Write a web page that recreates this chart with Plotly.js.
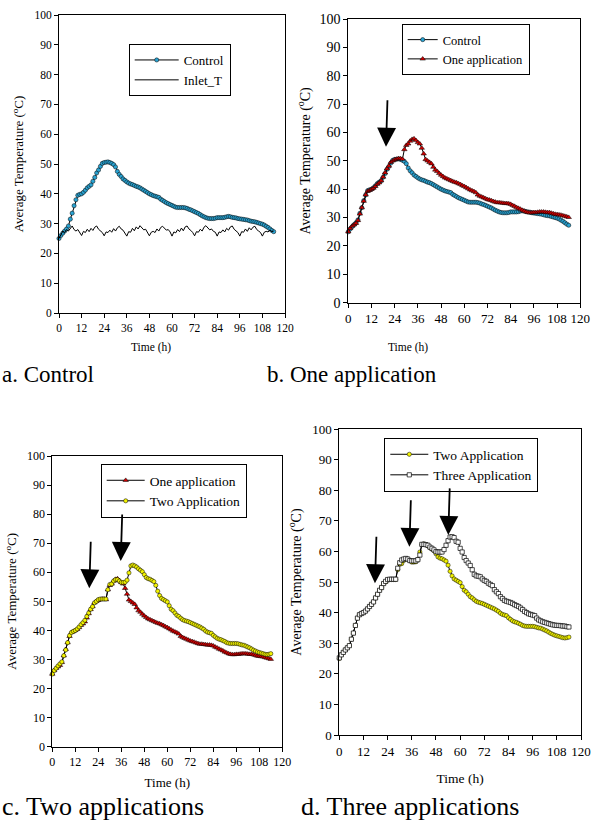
<!DOCTYPE html>
<html><head><meta charset="utf-8">
<script src="https://cdn.plot.ly/plotly-3.0.1.min.js"></script>
<style>html,body{margin:0;padding:0;background:#fff}</style>
</head><body><div id="chart" style="width:592px;height:821px"></div>
<script>
// ---------- DATA ----------
const hours = [0,1,2,3,4,5,6,7,8,9,10,11,12,13,14,15,16,17,18,19,20,21,22,23,24,25,26,27,28,29,30,31,32,33,34,35,36,37,38,39,40,41,42,43,44,45,46,47,48,49,50,51,52,53,54,55,56,57,58,59,60,61,62,63,64,65,66,67,68,69,70,71,72,73,74,75,76,77,78,79,80,81,82,83,84,85,86,87,88,89,90,91,92,93,94,95,96,97,98,99,100,101,102,103,104,105,106,107,108,109,110,111,112,113,114];

const control = [25,26,26.8,27.5,28.2,29.2,31.5,33.5,36,38,
 39.5,39.8,40,40.5,41.2,42,42.5,43,44.2,45.5,
 47,48,49.2,50.2,50.5,50.6,50.7,50.5,50.2,49.8,
 49,47.5,46.5,45.8,45,44.5,44,43.6,43.3,43.1,
 42.8,42.5,42.3,42,41.6,41.2,40.8,40.4,40,39.7,
 39.4,39.2,39,38.8,38.2,37.8,37.4,37,36.7,36.4,
 36.1,35.8,35.5,35.4,35.4,35.4,35.4,35.3,35.1,34.8,
 34.6,34.3,34,33.7,33.4,33,32.6,32.3,32,31.8,
 31.7,31.7,31.7,31.8,32,32,32,32,32.1,32.3,
 32.4,32.3,32.1,32,31.9,31.7,31.6,31.5,31.4,31.3,
 31.2,31,30.8,30.7,30.6,30.4,30.2,30,29.8,29.5,
 29.1,28.7,28.2,27.7,27.3];

const inletT = [25,26.5,27.5,27,28,27.5,28.5,29.2,28,27.5,28,27,
 26,27.4,27,28.1,27.3,28.4,27.7,28.8,29.2,28.1,27.6,27,
 25.9,27.2,27,27.8,27.1,28.3,27.5,28.6,29.1,28.2,27.8,26.9,
 25.8,27.3,27.1,28.4,27.6,28.9,28.2,29.3,28.5,27.9,28.1,27,
 25.9,27.1,27.4,27,28.2,27.5,28.7,29.1,28.3,27.8,28,27.2,
 25.8,27.2,26.9,28,27.3,28.5,27.6,28.9,29.2,28.2,27.7,27,
 25.9,27.3,27.1,28.1,27.5,28.8,29.3,28.4,27.9,28.2,27.4,27.1,
 25.8,27.2,27,27.9,27.2,28.4,27.8,28.9,29.2,28.1,27.6,27,
 25.8,27.3,27.1,28.2,27.4,28.6,27.9,28.8,29.1,28,27.5,27,
 25.8,27.1,27.4,27.2,27.8,27.3,27.5];

const oneApp = [25,26.2,27,27.5,28,29,31.3,33.5,35.8,38,
 39.3,39.6,40,40.4,41,41.8,42.3,43,44.3,45.8,
 47.2,48.2,49.5,50,50.4,50.6,50.8,50.8,50.6,54,
 55.5,56,57,57.6,57.8,57.2,56.5,56,54.5,52.5,
 50.5,50,49.5,49,47.8,46.8,46.3,45.6,45,44.5,
 44,43.7,43.4,43.1,42.8,42.5,42.3,42,41.7,41.3,
 41,40.6,40.2,39.8,39.5,39.2,38.8,38,37.6,37.3,
 37,36.7,36.4,36.2,36,35.7,35.5,35.3,35.3,35.2,
 35.1,35,35,34.9,34.7,34.3,34,33.6,33.3,33,
 32.6,32.3,32,31.8,31.7,31.7,31.8,31.8,31.9,32,
 32,32,31.9,31.8,31.8,31.6,31.4,31.2,31.1,31,
 30.9,30.7,30.5,30.3,30.1];

const twoApp = [25,26.2,27,27.8,28.5,29.2,31.3,33.3,35.8,38.2,
 39.3,39.7,40,40.5,41.2,42,42.7,43.5,44.8,46,
 47.3,48.2,49.5,50,50.6,50.8,50.8,50.8,50.8,54,
 55.8,56,57,57.5,57.5,57,56.5,56.5,56.6,57.3,
 59.8,62.2,62.5,62.2,61.8,61.2,60.7,60.2,59.2,58.2,
 57.8,57.6,57.2,56.8,55.5,53.5,52,51,50.6,50.2,
 49.8,48.5,47.3,46.8,46,45.2,44.8,44.2,43.7,43.4,
 43.2,43,42.7,42.4,42.1,41.8,41.5,41.2,40.8,40.4,
 39.8,39.4,39.2,39,38.3,37.8,37.3,37,36.8,36.5,
 36.2,35.8,35.6,35.5,35.5,35.5,35.5,35.4,35.2,35,
 34.9,34.6,34.3,34,33.6,33.2,32.9,32.6,32.4,32.2,
 32,31.8,31.7,31.8,32];

const threeApp = [25.2,26.2,27,27.8,28.5,29.2,31.3,33.3,35.8,38.2,
 39.3,39.7,40,40.5,41.2,42,42.7,43.5,44.8,46,
 47.3,48.2,49.5,50.2,50.8,50.9,50.9,50.9,50.9,54.5,
 56.3,57.2,57.5,57.7,57.5,57,56.9,56.9,56.9,57.3,
 58.8,62.3,62.3,62.2,62,61.4,61,60.5,59.9,59.8,
 59.8,59.8,60.6,62,63.5,64.7,64.8,64.5,63.3,63,
 61,59.8,58,57,56.2,55.4,54,52.5,52,51.9,
 51.7,51,50.5,50.2,49.6,49.2,48.8,47.5,46.8,46.2,
 45.2,44.6,44,43.7,43.5,43.3,43,42.6,42.3,42,
 41.5,41,40.4,40,39.6,39.4,39.2,39,38.2,37.6,
 37.3,37,36.8,36.6,36.4,36.2,36,35.9,35.8,35.8,
 35.7,35.6,35.6,35.4,35.3];

const xTicks = [0,12,24,36,48,60,72,84,96,108,120];
const yTicks = [0,10,20,30,40,50,60,70,80,90,100];
const captions = ['a. Control','b. One application','c. Two applications','d. Three applications'];
// application arrows: [panel, hour, temperature]
const arrowsAt = [['2',19.5,55],['3',19.3,54.5],['3',35.7,63.9],['4',17.7,49.6],['4',34.8,61.5],['4',54.1,65.4]];

// ---------- STYLE ----------
const F = 'Liberation Serif';
const W = 592, H = 821;
const px = v => v / W, py = v => 1 - v / H;

const mControl = {symbol:'circle', size:4.2, color:'#2AA3D2', line:{color:'#000', width:0.5}};
const mOne = {symbol:'triangle-up', size:4.8, color:'#D00000', line:{color:'#000', width:0.5}};
const mTwo = {symbol:'circle', size:4.2, color:'#F2F200', line:{color:'#000', width:0.5}};
const mThree = {symbol:'square', size:4.2, color:'#FFFFFF', line:{color:'#000', width:0.7}};

function tr(y, name, marker, sfx, leg) {
  const t = {x: hours, y: y, name: name, type:'scatter', mode: marker ? 'lines+markers' : 'lines',
    line: {color:'#000', width:1}, xaxis:'x'+sfx, yaxis:'y'+sfx, legend: leg, cliponaxis:false};
  if (marker) t.marker = marker;
  return t;
}

const data = [
  tr(control, 'Control', mControl, '', 'legend'),
  tr(inletT, 'Inlet_T', null, '', 'legend'),
  tr(control, 'Control', mControl, '2', 'legend2'),
  tr(oneApp, 'One application', mOne, '2', 'legend2'),
  tr(oneApp, 'One application', mOne, '3', 'legend3'),
  tr(twoApp, 'Two Application', mTwo, '3', 'legend3'),
  tr(twoApp, 'Two Application', mTwo, '4', 'legend4'),
  tr(threeApp, 'Three Application', mThree, '4', 'legend4')
];

function xax(d, anchor, fs, title, tfs, so) {
  const a = {domain:d, anchor:anchor, range:[0,120], tickvals:xTicks, ticks:'outside', ticklen:4,
    tickwidth:1, tickcolor:'#000', showline:true, linecolor:'#000', linewidth:1, mirror:true,
    showgrid:false, zeroline:false, automargin:false, tickfont:{family:F, size:fs, color:'#000'}};
  if (title) a.title = {text:title, font:{family:F, size:tfs, color:'#000'}, standoff:so};
  return a;
}
function yax(d, anchor, fs, tfs) {
  return {domain:d, anchor:anchor, range:[0,100], tickvals:yTicks, ticks:'outside', ticklen:4,
    tickwidth:1, tickcolor:'#000', showline:true, linecolor:'#000', linewidth:1, mirror:true,
    showgrid:false, zeroline:false, automargin:false, tickfont:{family:F, size:fs, color:'#000'},
    title:{text:'Average Temperature (<sup>o</sup>C)', font:{family:F, size:tfs, color:'#000'}}};
}
function leg(x, y, fs, iw) {
  return {x:px(x), y:py(y), xanchor:'left', yanchor:'top', bgcolor:'#fff', bordercolor:'#000',
    borderwidth:1, itemwidth:iw, font:{family:F, size:fs, color:'#000'}};
}

const annotations = [];
arrowsAt.forEach(a => annotations.push({xref:'x'+a[0], yref:'y'+a[0], x:a[1], y:a[2], ax:1.5, ay:-48,
  text:'', showarrow:true, arrowhead:2, arrowsize:2.1, arrowwidth:1.8, arrowcolor:'#000'}));
const capPos = [[0,374,23],[265,374,23],[0,806,26],[299,806,26]];
captions.forEach((c,i) => annotations.push({xref:'paper', yref:'paper', x:px(capPos[i][0]), y:py(capPos[i][1]),
  xanchor:'left', yanchor:'middle', text:c, showarrow:false, font:{family:F, size:capPos[i][2], color:'#000'}}));
annotations.push({xref:'paper', yref:'paper', x:px(151), y:py(347), xanchor:'center', yanchor:'middle',
  text:'Time (h)', showarrow:false, font:{family:F, size:11.5, color:'#000'}});
annotations.push({xref:'paper', yref:'paper', x:px(408), y:py(347), xanchor:'center', yanchor:'middle',
  text:'Time (h)', showarrow:false, font:{family:F, size:11.5, color:'#000'}});

const layout = {
  width:W, height:H, margin:{l:0,r:0,t:0,b:0}, paper_bgcolor:'#fff', plot_bgcolor:'#fff',
  font:{family:F, color:'#000'}, showlegend:true,
  xaxis: xax([px(59), px(285)], 'y', 11.5),
  yaxis: yax([py(313), py(15)], 'x', 11.5, 13),
  xaxis2: xax([px(348.3), px(580.3)], 'y2', 13),
  yaxis2: yax([py(302.7), py(19)], 'x2', 14, 14),
  xaxis3: xax([px(52.3), px(282.3)], 'y3', 12, 'Time (h)', 13, 9),
  yaxis3: yax([py(746.7), py(456)], 'x3', 12, 13),
  xaxis4: xax([px(339.3), px(581)], 'y4', 13, 'Time (h)', 13.5, 15),
  yaxis4: yax([py(735), py(429)], 'x4', 13, 14),
  legend: leg(128.7, 44, 13, 44),
  legend2: leg(401.7, 24, 12.5, 30),
  legend3: leg(100.7, 464, 13.5, 38),
  legend4: leg(384.3, 438, 13.5, 38),
  annotations: annotations
};

Plotly.newPlot('chart', data, layout, {staticPlot:true, displayModeBar:false});
</script>
</body></html>
